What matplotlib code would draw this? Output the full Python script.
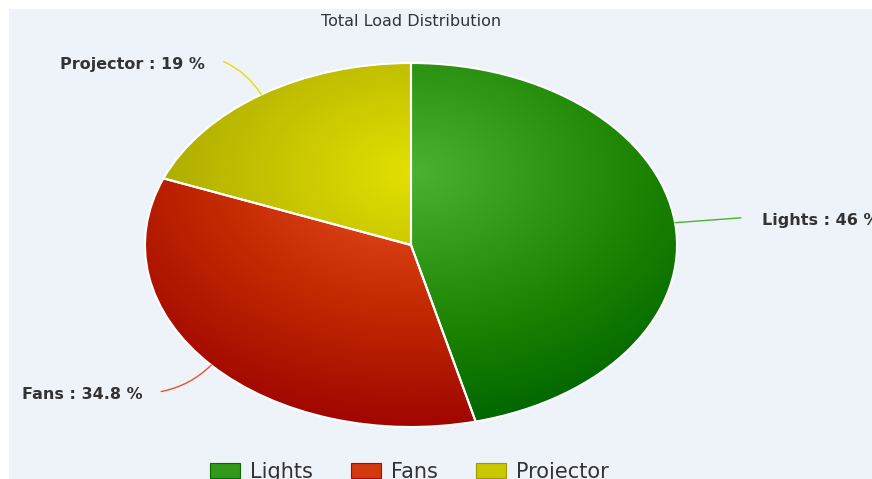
import numpy as np
import matplotlib.pyplot as plt
from matplotlib.patches import Rectangle, Patch

# chart data
labels = ['Lights', 'Fans', 'Projector']
shares = [46, 34.8, 19]
base_colors = [(76, 178, 50), (236, 82, 40), (226, 224, 0)]
title = 'Total Load Distribution'

W, H = 872, 479
fig = plt.figure(figsize=(W / 100, H / 100), dpi=100)
fig.patches.append(Rectangle((9 / W, 0), 1 - 9 / W, 1 - 9 / H, transform=fig.transFigure,
                             facecolor='#eef2f9', edgecolor='none', zorder=-10))

fig.text(411 / W, 1 - 21 / H, title, ha='center', va='center',
         fontsize=11.5, color='#333333')

# pie occupies an elliptical area (stretched like the original)
cx, cy, rx, ry = 411, 245, 266, 182
ax = fig.add_axes([(cx - rx) / W, 1 - (cy + ry) / H, 2 * rx / W, 2 * ry / H])
ax.axis('off')
wedges, _ = ax.pie(shares, startangle=90, counterclock=False, radius=1,
                   wedgeprops=dict(linewidth=0))
ax.set_aspect('auto')

# radial gradient fill like highcharts (cx .5, cy .3, r .7, darken .3)
n = 500
xs = np.linspace(-1, 1, n)
X, Y = np.meshgrid(xs, xs)
d = np.clip(np.hypot(X, Y - 0.4) / 1.4, 0, 1)
for w, col in zip(wedges, base_colors):
    img = np.zeros((n, n, 3))
    for k in range(3):
        img[..., k] = np.clip(col[k] - 76 * d, 0, 255) / 255
    im = ax.imshow(img, extent=(-1, 1, -1, 1), origin='lower', aspect='auto', zorder=0)
    im.set_clip_path(w)
    w.set_facecolor('none')
    w.set_edgecolor('white')
    w.set_linewidth(1.5)
    w.set_zorder(2)
ax.set_xlim(-1, 1)
ax.set_ylim(-1, 1)

# data labels with soft connectors
for w, lab, val, col in zip(wedges, labels, shares, base_colors):
    mid = np.deg2rad((w.theta1 + w.theta2) / 2)
    edge = (np.cos(mid), np.sin(mid))
    end = (1.25 * np.cos(mid), 1.22 * np.sin(mid))
    right = end[0] > 0
    rad = 0.0 if right else -0.15 * np.sign(end[1])
    c = tuple(v / 255 for v in col)
    ax.annotate('', xy=edge, xytext=end, annotation_clip=False,
                arrowprops=dict(arrowstyle='-', color=c, lw=1, shrinkA=0, shrinkB=0,
                                connectionstyle='arc3,rad=%.2f' % rad))
    ax.annotate('%s : %g %%' % (lab, val), xy=end, xytext=(21 if right else -19, -2.5),
                textcoords='offset pixels', ha='left' if right else 'right', va='center',
                fontsize=11.5, fontweight='bold', color='#333333', annotation_clip=False)

handles = [Patch(facecolor=tuple((v - 25) / 255 if v >= 25 else 0 for v in col),
                 edgecolor=tuple(max(v - 70, 0) / 255 for v in col), linewidth=0.8)
           for col in base_colors]
fig.legend(handles, labels, loc='center', bbox_to_anchor=(409.5 / W, 1 - 472 / H),
           ncol=3, frameon=False, fontsize=15, handlelength=1.45, handleheight=0.72,
           handletextpad=0.5, columnspacing=1.8, labelcolor='#333333')

fig.savefig('out.png', dpi=100)
